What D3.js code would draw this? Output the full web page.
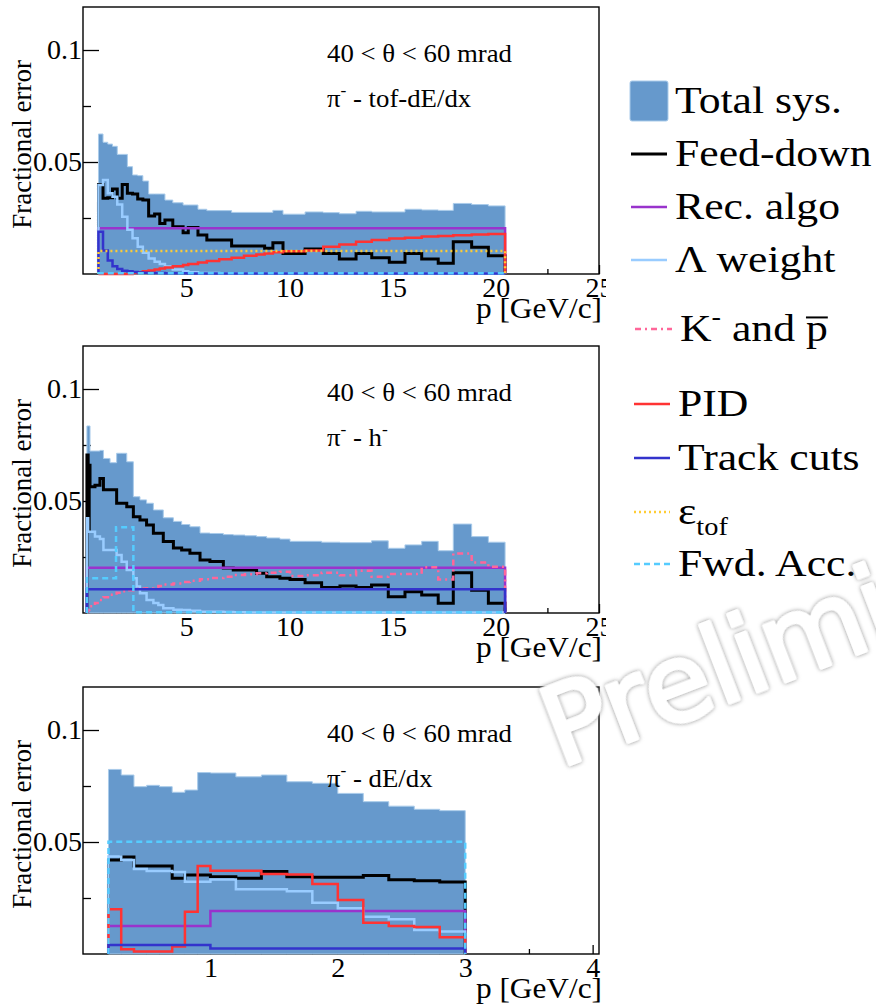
<!DOCTYPE html>
<html>
<head>
<meta charset="utf-8">
<script src="https://cdn.jsdelivr.net/npm/d3@7"></script>
<style>
  body { margin: 0; background: #fff; }
</style>
</head>
<body>
<svg id="chart" width="876" height="1005"></svg>
<script>
// ---- axis ticks
const errTicks = [0.05, 0.1];
const errMinor = [0.025, 0.075];
const momTicks = [5, 10, 15, 20, 25];
const momMinor = [2.5, 7.5, 12.5, 17.5, 22.5];
const lowMomTicks = [1, 2, 3, 4];
const lowMomMinor = [0.5, 1.5, 2.5, 3.5];

// ---- pi- tof-dE/dx (top)
const tofEdges = [0.75, 0.97, 1.2, 1.43, 1.66, 1.9, 2.15, 2.4, 2.65, 2.9, 3.18, 3.47, 3.72, 3.97, 4.35, 4.85, 5.1, 5.57, 6.0, 6.6,
  7.2, 7.8, 8.4, 8.8, 9.2, 9.69, 10.76, 11.64, 12.42, 13.23, 13.99, 14.84, 15.6, 16.41, 17.21, 17.94, 18.83, 19.64, 20.45];
const tofTotal = [0.0625, 0.0588, 0.058, 0.057, 0.0534, 0.0534, 0.0479, 0.0442, 0.0439, 0.0415, 0.0357, 0.0357, 0.0357, 0.033,
  0.0318, 0.0308, 0.0308, 0.0289, 0.0283, 0.0283, 0.0275, 0.0275, 0.0275, 0.0275, 0.0284, 0.0267, 0.0277, 0.0274, 0.0269,
  0.028, 0.0277, 0.0277, 0.0289, 0.0286, 0.0284, 0.0315, 0.031, 0.0304];
const tofFeed = [0.040, 0.0338, 0.034, 0.038, 0.0338, 0.040, 0.036, 0.0357, 0.0335, 0.033, 0.0259, 0.0268, 0.0226, 0.0241,
  0.0211, 0.0184, 0.0208, 0.0174, 0.0152, 0.0152, 0.0125, 0.0125, 0.0125, 0.0115, 0.014, 0.0091, 0.0112, 0.0092, 0.0067,
  0.0092, 0.0073, 0.0052, 0.0092, 0.0067, 0.0048, 0.0144, 0.0119, 0.0082];
const tofLambda = [0.0397, 0.042, 0.036, 0.0345, 0.031, 0.0256, 0.0197, 0.016, 0.0122, 0.0095, 0.0069, 0.0055, 0.0045, 0.0033,
  0.002, 0.0012, 0.0008, 0.0005, 0.0004, 0.0003, 0.0003, 0.0002, 0.0002, 0.0002, 0.0002, 0.0002, 0.0002, 0.0002, 0.0002,
  0.0002, 0.0002, 0.0002, 0.0002, 0.0002, 0.0002, 0.0002, 0.0002, 0.0002];
const tofTrack = [0.0189, 0.0105, 0.006, 0.0035, 0.0022, 0.0015, 0.0012, 0.0009, 0.0007, 0.0006, 0.0005, 0.0004, 0.0004, 0.0003,
  0.0003, 0.0003, 0.0002, 0.0002, 0.0002, 0.0002, 0.0002, 0.0002, 0.0002, 0.0002, 0.0002, 0.0002, 0.0002, 0.0002, 0.0002,
  0.0002, 0.0002, 0.0002, 0.0002, 0.0002, 0.0002, 0.0002, 0.0002, 0.0002];
const tofPid = [0, 0, 0, 0, 0, 0, 0, 0.0005, 0.0008, 0.0012, 0.0016, 0.002, 0.0024, 0.0029, 0.0035, 0.004, 0.0045, 0.0051,
  0.0058, 0.0066, 0.0073, 0.0081, 0.0087, 0.0092, 0.0097, 0.0102, 0.0105, 0.0122, 0.0132, 0.0144, 0.0152, 0.0158, 0.0162,
  0.0167, 0.017, 0.0173, 0.0176, 0.0179];
const tofFlatEdges = [0.75, 20.45];
const tofRec = [0.0204];
const tofEff = [0.0103];
const tofFwd = [0.0003];

// ---- pi- h- (middle)
const hEdges = [0.19, 0.25, 0.3, 0.34, 0.58, 0.82, 0.99, 1.31, 1.63, 1.87, 2.12, 2.44, 2.6, 2.76, 3.08, 3.41, 3.65, 3.89, 4.38,
  4.78, 5.18, 5.67, 6.15, 6.8, 7.28, 7.85, 8.41, 8.9, 9.54, 10.03, 10.76, 11.56, 12.45, 13.23, 13.98, 14.79, 15.6, 16.41,
  17.21, 17.94, 18.83, 19.64, 20.45];
const hTotal = [0.0835, 0.0835, 0.0835, 0.0723, 0.0723, 0.0726, 0.069, 0.0671, 0.0713, 0.0713, 0.0675, 0.0519, 0.0519, 0.0505,
  0.049, 0.046, 0.046, 0.0425, 0.0409, 0.0395, 0.0385, 0.0357, 0.0355, 0.035, 0.0348, 0.0345, 0.0341, 0.0335, 0.033, 0.032,
  0.032, 0.0316, 0.0314, 0.0314, 0.0322, 0.0289, 0.0304, 0.032, 0.0278, 0.0397, 0.0341, 0.0316];
const hFeed = [0.0705, 0.037, 0.066, 0.0564, 0.057, 0.0601, 0.055, 0.055, 0.049, 0.049, 0.0474, 0.043, 0.043, 0.0415, 0.0393,
  0.0356, 0.0356, 0.0319, 0.029, 0.0281, 0.0267, 0.0237, 0.023, 0.0201, 0.0192, 0.0192, 0.0177, 0.0162, 0.0155, 0.015,
  0.0135, 0.0114, 0.012, 0.0114, 0.0125, 0.0073, 0.0095, 0.008, 0.0043, 0.018, 0.0102, 0.0043];
const hLambda = [0.0423, 0.0363, 0.0363, 0.0363, 0.0341, 0.033, 0.0281, 0.0281, 0.0259, 0.0229, 0.0192, 0.0155, 0.0118, 0.0088,
  0.0058, 0.0045, 0.0036, 0.0021, 0.0015, 0.0013, 0.001, 0.0006, 0.0006, 0.0004, 0.0003, 0.0002, 0.0002, 0.0002, 0.0002,
  0.0002, 0.0002, 0.0002, 0.0002, 0.0002, 0.0002, 0.0002, 0.0002, 0.0002, 0.0002, 0.0002, 0.0002, 0.0002];
const hKaon = [0.0008, 0.0015, 0.002, 0.003, 0.0045, 0.0058, 0.007, 0.0081, 0.009, 0.0097, 0.0102, 0.0105, 0.0107, 0.0109,
  0.011, 0.0115, 0.012, 0.0127, 0.0132, 0.0138, 0.0144, 0.0151, 0.0156, 0.0162, 0.017, 0.0173, 0.0177, 0.018, 0.0184,
  0.0165, 0.0168, 0.018, 0.0168, 0.0189, 0.0162, 0.0174, 0.0174, 0.0204, 0.015, 0.0266, 0.0226, 0.0207];
const hFlatEdges = [0.19, 20.45];
const hRec = [0.0202];
const hTrack = [0.0106];
const hFwdEdges = [0.19, 1.6, 2.44, 20.45];
const hFwd = [0.0155, 0.0383, 0.0003];

// ---- pi- dE/dx (bottom)
const dedxEdges = [0.2, 0.3, 0.4, 0.5, 0.6, 0.7, 0.8, 0.9, 1.0, 1.2, 1.4, 1.6, 1.8, 2.0, 2.2, 2.4, 2.6, 2.8, 3.0];
const dedxTotal = [0.0824, 0.0799, 0.0747, 0.0753, 0.0747, 0.0722, 0.0732, 0.081, 0.0808, 0.0791, 0.0799, 0.0769, 0.0762,
  0.0717, 0.068, 0.066, 0.0646, 0.064];
const dedxFeed = [0.042, 0.0433, 0.0393, 0.0393, 0.0393, 0.0338, 0.0353, 0.0353, 0.0345, 0.0338, 0.0368, 0.0345, 0.0343,
  0.0343, 0.035, 0.0332, 0.0327, 0.0321];
const dedxLambda = [0.0435, 0.042, 0.038, 0.037, 0.037, 0.0366, 0.0323, 0.0323, 0.0333, 0.0289, 0.0289, 0.028, 0.0229, 0.0204,
  0.0166, 0.0155, 0.0107, 0.01];
const dedxPid = [0.020, 0.0021, 0.0011, 0.0011, 0.0011, 0.0033, 0.0189, 0.0393, 0.0372, 0.0372, 0.0357, 0.0355, 0.0312, 0.0241,
  0.014, 0.0125, 0.012, 0.0075];
const dedxSplitEdges = [0.2, 1.0, 3.0];
const dedxRec = [0.0125, 0.0192];
const dedxTrack = [0.004, 0.0025];
const dedxFlatEdges = [0.2, 3.0];
const dedxFwd = [0.0501];

// ---- drawing styles per source
const styles = {
  total:  { fill: '#6699cc', stroke: '#a9cbea', width: 1 },
  feed:   { stroke: '#000000', width: 3 },
  rec:    { stroke: '#9933cc', width: 2.5 },
  lambda: { stroke: '#99ccff', width: 2.5 },
  kaon:   { stroke: '#ff6699', width: 2.5, dash: '6 4 2 4' },
  pid:    { stroke: '#ff3333', width: 2.5 },
  track:  { stroke: '#3333cc', width: 2.5 },
  eff:    { stroke: '#ffcc33', width: 2.5, dash: '2 3' },
  fwd:    { stroke: '#55ccff', width: 2.5, dash: '6 4' }
};

const panels = [
  { top: 7, xMax: 25, major: momTicks, minor: momMinor, tag: [['π'], ['-', 'sup'], [' - tof-dE/dx']],
    series: [['total', tofEdges, tofTotal], ['feed', tofEdges, tofFeed], ['rec', tofFlatEdges, tofRec],
      ['lambda', tofEdges, tofLambda], ['pid', tofEdges, tofPid], ['track', tofEdges, tofTrack],
      ['eff', tofFlatEdges, tofEff], ['fwd', tofFlatEdges, tofFwd]] },
  { top: 346, xMax: 25, major: momTicks, minor: momMinor, tag: [['π'], ['-', 'sup'], [' - h'], ['-', 'sup']],
    series: [['total', hEdges, hTotal], ['feed', hEdges, hFeed], ['rec', hFlatEdges, hRec],
      ['lambda', hEdges, hLambda], ['kaon', hEdges, hKaon], ['track', hFlatEdges, hTrack],
      ['fwd', hFwdEdges, hFwd]] },
  { top: 687, xMax: 4.05, major: lowMomTicks, minor: lowMomMinor, tag: [['π'], ['-', 'sup'], [' - dE/dx']],
    series: [['total', dedxEdges, dedxTotal], ['feed', dedxEdges, dedxFeed], ['rec', dedxSplitEdges, dedxRec],
      ['lambda', dedxEdges, dedxLambda], ['pid', dedxEdges, dedxPid], ['track', dedxSplitEdges, dedxTrack],
      ['fwd', dedxFlatEdges, dedxFwd]] }
];

const SERIF = 'Liberation Serif';
const svg = d3.select('#chart').attr('font-family', SERIF);
const left = 83, right = 599, plotH = 267, yMax = 0.1192;

const defs = svg.append('defs');
defs.append('clipPath').attr('id', 'pad')
  .append('rect').attr('x', 0).attr('y', 0).attr('width', 606).attr('height', 1005);

// rich text: plain / sup / sub / bar parts; returns char ranges that need a bar on top
function rich(text, parts, size) {
  let shift = 0, pos = 0;
  const bars = [];
  parts.forEach(([t, kind]) => {
    const ts = text.append('tspan').attr('font-family', SERIF).text(t);
    let target = 0;
    if (kind === 'sup') target = -0.42 * size;
    if (kind === 'sub') target = 0.3 * size;
    ts.attr('dy', target - shift);
    shift = target;
    if (kind === 'sup' || kind === 'sub') ts.attr('font-size', size * 0.65);
    if (kind === 'bar') bars.push([pos, pos + t.length - 1]);
    pos += t.length;
  });
  return bars;
}

function stepPoints(edges, values) {
  const pts = [[edges[0], 0]];
  values.forEach((v, i) => { pts.push([edges[i], v]); pts.push([edges[i + 1], v]); });
  pts.push([edges[edges.length - 1], 0]);
  return pts;
}

panels.forEach(p => {
  const bottom = p.top + plotH;
  const x = d3.scaleLinear().domain([0, p.xMax]).range([left, right]);
  const y = d3.scaleLinear().domain([0, yMax]).range([bottom, p.top]);
  const g = svg.append('g').attr('clip-path', 'url(#pad)');

  // axes (ticks point inward, ROOT style)
  g.append('g').attr('transform', `translate(0,${bottom})`)
    .call(d3.axisBottom(x).tickValues(p.major).tickSize(-9).tickPadding(3).tickFormat(d3.format('')));
  g.append('g').attr('transform', `translate(0,${bottom})`)
    .call(d3.axisBottom(x).tickValues(p.minor).tickSize(-5).tickFormat(''));
  g.append('g').attr('transform', `translate(${left},0)`)
    .call(d3.axisLeft(y).tickValues(errTicks).tickSize(-16).tickPadding(1).tickFormat(d3.format('')));
  g.append('g').attr('transform', `translate(${left},0)`)
    .call(d3.axisLeft(y).tickValues(errMinor).tickSize(-8).tickFormat(''));
  g.selectAll('g').attr('font-family', SERIF);
  g.selectAll('.domain').remove();
  g.selectAll('.tick line').attr('stroke', '#000').attr('stroke-width', 1.3);
  g.selectAll('.tick text').attr('font-family', SERIF).attr('fill', '#000').attr('font-size', 28);

  // frame
  g.append('rect').attr('x', left).attr('y', p.top).attr('width', right - left).attr('height', plotH)
    .attr('fill', 'none').attr('stroke', '#000').attr('stroke-width', 1.4);

  // histograms
  const line = d3.line().x(d => x(d[0])).y(d => y(d[1]));
  const area = d3.area().x(d => x(d[0])).y0(y(0)).y1(d => y(d[1]));
  p.series.forEach(([key, edges, values]) => {
    const s = styles[key];
    const pts = stepPoints(edges, values);
    g.append('path').attr('d', key === 'total' ? area(pts) : line(pts))
      .attr('fill', s.fill || 'none').attr('stroke', s.stroke).attr('stroke-width', s.width)
      .attr('stroke-dasharray', s.dash || null);
  });

  // labels
  g.append('text').attr('transform', `translate(327,${p.top + 55}) scale(1.05,1)`)
    .attr('font-family', SERIF).attr('font-size', 25.5).text('40 < θ < 60 mrad');
  rich(g.append('text').attr('transform', `translate(327,${p.top + 100}) scale(1.05,1)`)
    .attr('font-family', SERIF).attr('font-size', 25.5), p.tag, 25.5);
  g.append('text').attr('transform', `translate(602,${bottom + 44}) scale(1.08,1)`).attr('text-anchor', 'end')
    .attr('font-family', SERIF).attr('font-size', 29).text('p [GeV/c]');
  g.append('text').attr('transform', `translate(31,${p.top + 53}) rotate(-90)`).attr('text-anchor', 'end')
    .attr('font-family', SERIF).attr('font-size', 27).text('Fractional error');
});

// ---- legend
const legendRows = [
  { key: 'total', y: 101, x0: 631, x1: 667, tx: 675, parts: [['Total sys.']] },
  { key: 'feed', y: 154, x0: 631, x1: 667, tx: 675, parts: [['Feed-down']] },
  { key: 'rec', y: 207, x0: 631, x1: 667, tx: 675, parts: [['Rec. algo']] },
  { key: 'lambda', y: 260, x0: 631, x1: 667, tx: 675, parts: [['Λ weight']] },
  { key: 'kaon', y: 329, x0: 635, x1: 672, tx: 680, parts: [['K'], ['-', 'sup'], [' and '], ['p', 'bar']] },
  { key: 'pid', y: 404, x0: 634, x1: 670, tx: 678, parts: [['PID']] },
  { key: 'track', y: 458, x0: 634, x1: 670, tx: 678, parts: [['Track cuts']] },
  { key: 'eff', y: 512, x0: 634, x1: 670, tx: 678, parts: [['ε'], ['tof', 'sub']] },
  { key: 'fwd', y: 564, x0: 634, x1: 670, tx: 678, parts: [['Fwd. Acc.']] }
];
const lg = svg.append('g');
const legendSize = 38;
legendRows.forEach(r => {
  const s = styles[r.key];
  if (r.key === 'total') {
    lg.append('rect').attr('x', r.x0 - 1).attr('y', r.y - 20).attr('width', r.x1 - r.x0 + 2).attr('height', 40)
      .attr('rx', 2).attr('fill', s.fill).attr('stroke', s.stroke);
  } else {
    lg.append('line').attr('x1', r.x0).attr('x2', r.x1).attr('y1', r.y).attr('y2', r.y)
      .attr('stroke', s.stroke).attr('stroke-width', s.width).attr('stroke-dasharray', s.dash || null);
  }
  const tg = lg.append('g').attr('transform', `translate(${r.tx},${r.y + 12}) scale(1.15,1)`);
  const text = tg.append('text').attr('font-family', SERIF).attr('font-size', legendSize);
  const bars = rich(text, r.parts, legendSize);
  bars.forEach(([a, b]) => {
    const n = text.node();
    const x0 = n.getStartPositionOfChar(a).x, x1 = n.getEndPositionOfChar(b).x;
    tg.append('line').attr('x1', x0).attr('x2', x1)
      .attr('y1', -0.62 * legendSize).attr('y2', -0.62 * legendSize)
      .attr('stroke', '#000').attr('stroke-width', 2);
  });
});

// ---- watermark
const glow = defs.append('filter').attr('id', 'glow')
  .attr('x', '-10%').attr('y', '-10%').attr('width', '120%').attr('height', '120%');
glow.append('feGaussianBlur').attr('in', 'SourceAlpha').attr('stdDeviation', 2.2).attr('result', 'b');
glow.append('feFlood').attr('flood-color', '#8c8c8c').attr('result', 'c');
glow.append('feComposite').attr('in', 'c').attr('in2', 'b').attr('operator', 'in').attr('result', 's');
const merge = glow.append('feMerge');
merge.append('feMergeNode').attr('in', 's');
merge.append('feMergeNode').attr('in', 'SourceGraphic');
svg.append('text').attr('transform', 'translate(560,768) rotate(-21)')
  .attr('font-family', 'DejaVu Sans').attr('font-size', 108).attr('fill', '#fff')
  .attr('stroke', '#fff').attr('stroke-width', 4).attr('stroke-linejoin', 'round')
  .attr('filter', 'url(#glow)').text('Preliminary');
</script>
</body>
</html>
